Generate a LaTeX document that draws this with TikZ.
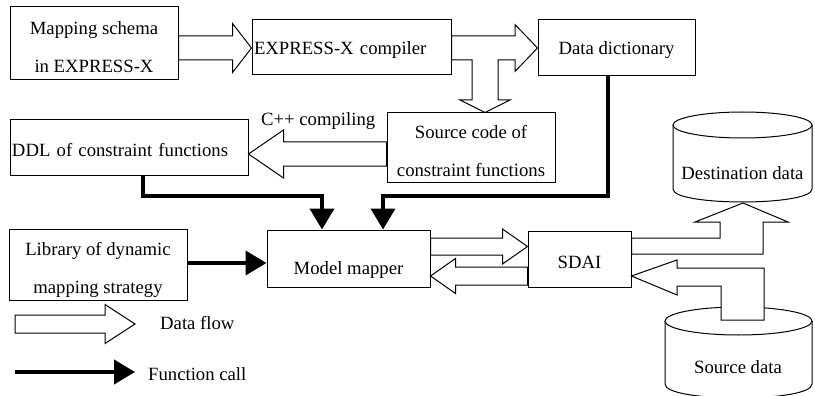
\documentclass[tikz,border=0pt]{standalone}
\usepackage{fontspec}
\setmainfont{Liberation Serif}
\usetikzlibrary{arrows.meta,calc}
\newcommand\ffont{\fontsize{18.7}{38}\selectfont}
\newcommand\twol[2]{\rule{0pt}{25pt}#1\\\rule[-5pt]{0pt}{5pt}#2}
\newcommand\hfat[5]{\draw[fat] let \p1=(#1), \p2=(#2) in
  (\x1,{\y2+#3}) -- ({\x2-(#5)},{\y2+#3}) -- ({\x2-(#5)},{\y2+#4}) -- (\x2,\y2)
  -- ({\x2-(#5)},{\y2-#4}) -- ({\x2-(#5)},{\y2-#3}) -- (\x1,{\y2-#3}) -- cycle;}
\begin{document}
\begin{tikzpicture}[x=1pt,y=-1pt,
  box/.style={draw,line width=1pt,fill=white,inner sep=0pt,font=\ffont,align=center},
  fat/.style={draw,fill=white,line width=1pt,line join=miter},
  fcall/.style={line width=4pt,line join=miter,-{Triangle[length=21pt,width=24pt]}},
  lbl/.style={font=\ffont,inner sep=0pt}]
\useasboundingbox (0,0) rectangle (815,396);
\fill[white] (0,0) rectangle (815,396);

% boxes
\node[box,minimum width=168pt,minimum height=73pt] (map) at (94,43.5) {\twol{Mapping schema}{in EXPRESS-X}};
\node[box,text width=195pt,inner xsep=2pt,align=left,minimum height=55pt,text height=17pt,text depth=2pt] (comp) at (351.5,47.5) {EXPRESS-X compiler};
\node[box,minimum width=157pt,minimum height=56pt,text height=16pt,text depth=2pt] (dict) at (616.5,48) {Data dictionary};
\node[box,minimum width=168pt,minimum height=69pt] (src) at (471,147.5) {\twol{Source code of}{constraint functions}};
\node[box,text width=234pt,inner xsep=2pt,align=left,minimum height=55pt,text height=21pt,text depth=2pt] (ddl) at (129,147.5) {DDL of constraint functions};
\node[box,minimum width=178pt,minimum height=71pt] (lib) at (98,264.5) {\twol{Library of dynamic}{mapping strategy}};
\node[box,minimum width=163pt,minimum height=57pt,text height=34pt,text depth=2pt] (mm) at (348.5,258.5) {Model mapper};
\node[box,minimum width=103pt,minimum height=56pt,text height=20pt,text depth=2pt] (sdai) at (579.5,259) {SDAI};

% helper coordinates
\coordinate (y24) at (0,24.5);
\coordinate (y36) at (0,36);
\coordinate (y48) at (0,48);
\coordinate (y60) at (0,60);
\coordinate (y154) at (0,154);
\coordinate (y196) at (0,196);
\coordinate (y238) at (0,238);
\coordinate (y2465) at (0,246.5);
\coordinate (y254) at (0,254);
\coordinate (y263) at (0,263);
\coordinate (y276) at (0,276);
\coordinate (x143) at (143,0);
\coordinate (x322) at (322,0);
\coordinate (x383) at (383,0);
\coordinate (x485) at (485,0);
\coordinate (x608) at (608,0);

% cylinders
\draw[line width=1pt,fill=white] (673,125) -- (673,189) .. controls (673,206.3) and (812,206.3) .. (812,189) -- (812,125);
\draw[line width=1pt,fill=white] (742.5,125) ellipse[x radius=69.5,y radius=13];
\node[lbl,anchor=base] (dest) at (742.5,179) {Destination data};
\draw[line width=1pt,fill=white] (665,321) -- (665,384) .. controls (665,402.7) and (812,402.7) .. (812,384) -- (812,321);
\draw[line width=1pt,fill=white] (738.5,321) ellipse[x radius=73.5,y radius=14];
\node[lbl,anchor=base] (srcd) at (738,373) {Source data};

% data flow arrows
\hfat{map.east |- y48}{comp.west |- y48}{12pt}{24.5pt}{19pt}
\draw[fat] (comp.east |- y36) -- (515,36) -- (515,24.5) -- (dict.west |- y48) -- (515,71.5)
  -- (515,60) -- (498,60) -- (498,100) -- (510,100) -- (x485 |- src.north) -- (460,100)
  -- (472,100) -- (472,60) -- (comp.east |- y60) -- cycle;
\hfat{src.west |- y154}{ddl.east |- y154}{12pt}{24pt}{-35pt}
\node[lbl,anchor=base west] (cpp) at (261,125) {C++ compiling};
\hfat{mm.east |- y2465}{sdai.west |- y2465}{8.5pt}{17.5pt}{25pt}
\hfat{sdai.west |- y276}{mm.east |- y276}{9pt}{17.5pt}{-25pt}
\draw[fat] (sdai.east |- y238) -- (720,238) -- (720,222) -- (695,222) -- (743,203) -- (788,222)
  -- (763,222) -- (763,254) -- (sdai.east |- y254) -- cycle;
\draw[fat] (721,320) -- (721,286) -- (677,286) -- (677,295) -- (sdai.east |- y276) -- (677,260)
  -- (677,268) -- (764,268) -- (764,320) -- cycle;

% function calls
\draw[fcall] (x143 |- ddl.south) -- (x143 |- y196) -- (x322 |- y196) -- (x322 |- mm.north);
\draw[fcall] (x608 |- dict.south) -- (x608 |- y196) -- (x383 |- y196) -- (x383 |- mm.north);
\draw[fcall] (lib.east |- y263) -- (mm.west |- y263);

% legend
\coordinate (lgA) at (15,324);
\coordinate (lgB) at (135,324);
\hfat{lgA}{lgB}{9pt}{19.5pt}{30pt}
\node[lbl,anchor=base west] (lgdf) at (160,329) {Data flow};
\coordinate (lgC) at (15,372);
\coordinate (lgD) at (135,372);
\draw[fcall] (lgC) -- (lgD);
\node[lbl,anchor=base west] (lgfc) at (148,380) {Function call};
\end{tikzpicture}
\end{document}
